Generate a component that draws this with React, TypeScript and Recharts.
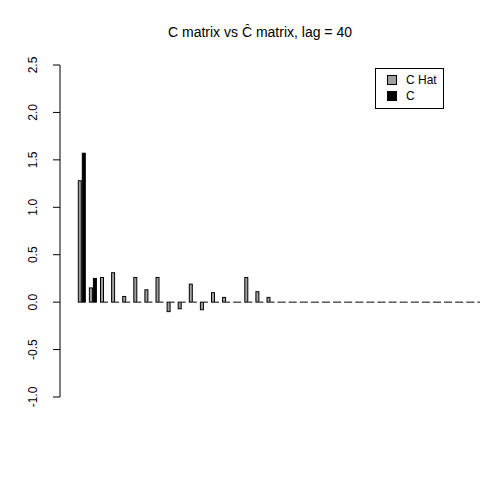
import React from 'react';
import { BarChart, Bar, XAxis, YAxis, ReferenceLine } from 'recharts';

const lags = Array.from({ length: 40 }, (_, i) => i + 1);
const cHat = [1.28, 0.15, 0.26, 0.31, 0.06, 0.26, 0.13, 0.26, -0.1, -0.07, 0.19, -0.08, 0.1, 0.05, 0, 0.26, 0.11, 0.05, 0, 0, 0, 0, 0, 0, 0, 0, 0, 0, 0, 0, 0, 0, 0, 0, 0, 0, 0, 0, 0, 0];
const cTrue = [1.57, 0.25, 0, 0, 0, 0, 0, 0, 0, 0, 0, 0, 0, 0, 0, 0, 0, 0, 0, 0, 0, 0, 0, 0, 0, 0, 0, 0, 0, 0, 0, 0, 0, 0, 0, 0, 0, 0, 0, 0];
const yTicks = [-1, -0.5, 0, 0.5, 1, 1.5, 2, 2.5];
const yLabels = ['-1.0', '-0.5', '0.0', '0.5', '1.0', '1.5', '2.0', '2.5'];

const data = lags.map((l, i) => ({ lag: l, chat: cHat[i], c: cTrue[i] }));

const BarShape = (p: any) => {
  const { x, y, width, height, fill } = p;
  const top = Math.min(y, y + height);
  const h = Math.abs(height);
  if (h < 0.8) {
    return <line x1={x} x2={x + width} y1={y} y2={y} stroke="#000" strokeWidth={1} />;
  }
  return <rect x={x + 0.5} y={top} width={width - 1} height={h} fill={fill} stroke="#000" strokeWidth={1} />;
};

const YTick = (p: any) => {
  const { x, y, payload } = p;
  const idx = yTicks.indexOf(payload.value);
  return (
    <text x={x - 14} y={y} transform={`rotate(-90 ${x - 14} ${y})`} textAnchor="middle" fontSize={12} fontFamily="Liberation Sans, Arial, sans-serif" fill="#000">
      {yLabels[idx]}
    </text>
  );
};

export default function App() {
  return (
    <div style={{ position: 'absolute', top: 0, left: 0, width: 480, height: 480, overflow: 'hidden', background: '#fff', fontFamily: 'Liberation Sans, Arial, sans-serif' }}>
      <div style={{ position: 'absolute', top: 24, left: 60, width: 400, textAlign: 'center', fontSize: 14 }}>
        C matrix vs C&#770; matrix, lag = 40
      </div>
      <BarChart width={520} height={480} data={data} margin={{ top: 65, right: 0, bottom: 83, left: 0 }} barGap={0} barCategoryGap={1.8}>
        <XAxis dataKey="lag" hide padding={{ left: 16, right: 0 }} />
        <YAxis width={60} domain={[-1, 2.5]} ticks={yTicks} type="number" allowDataOverflow tick={<YTick />} tickLine={{ stroke: '#000' }} tickSize={7} axisLine={{ stroke: '#000' }} />
        <Bar dataKey="chat" fill="#a0a0a0" shape={<BarShape />} isAnimationActive={false} />
        <Bar dataKey="c" fill="#000" shape={<BarShape />} isAnimationActive={false} />
      </BarChart>
      <div style={{ position: 'absolute', left: 375, top: 68, width: 67, height: 39, border: '1px solid #000', fontSize: 12, background: '#fff' }}>
        <div style={{ position: 'absolute', left: 11, top: 6, width: 8, height: 8, background: '#a0a0a0', border: '1px solid #000' }} />
        <div style={{ position: 'absolute', left: 30, top: 4 }}>C Hat</div>
        <div style={{ position: 'absolute', left: 11, top: 22, width: 8, height: 8, background: '#000', border: '1px solid #000' }} />
        <div style={{ position: 'absolute', left: 30, top: 20 }}>C</div>
      </div>
    </div>
  );
}
